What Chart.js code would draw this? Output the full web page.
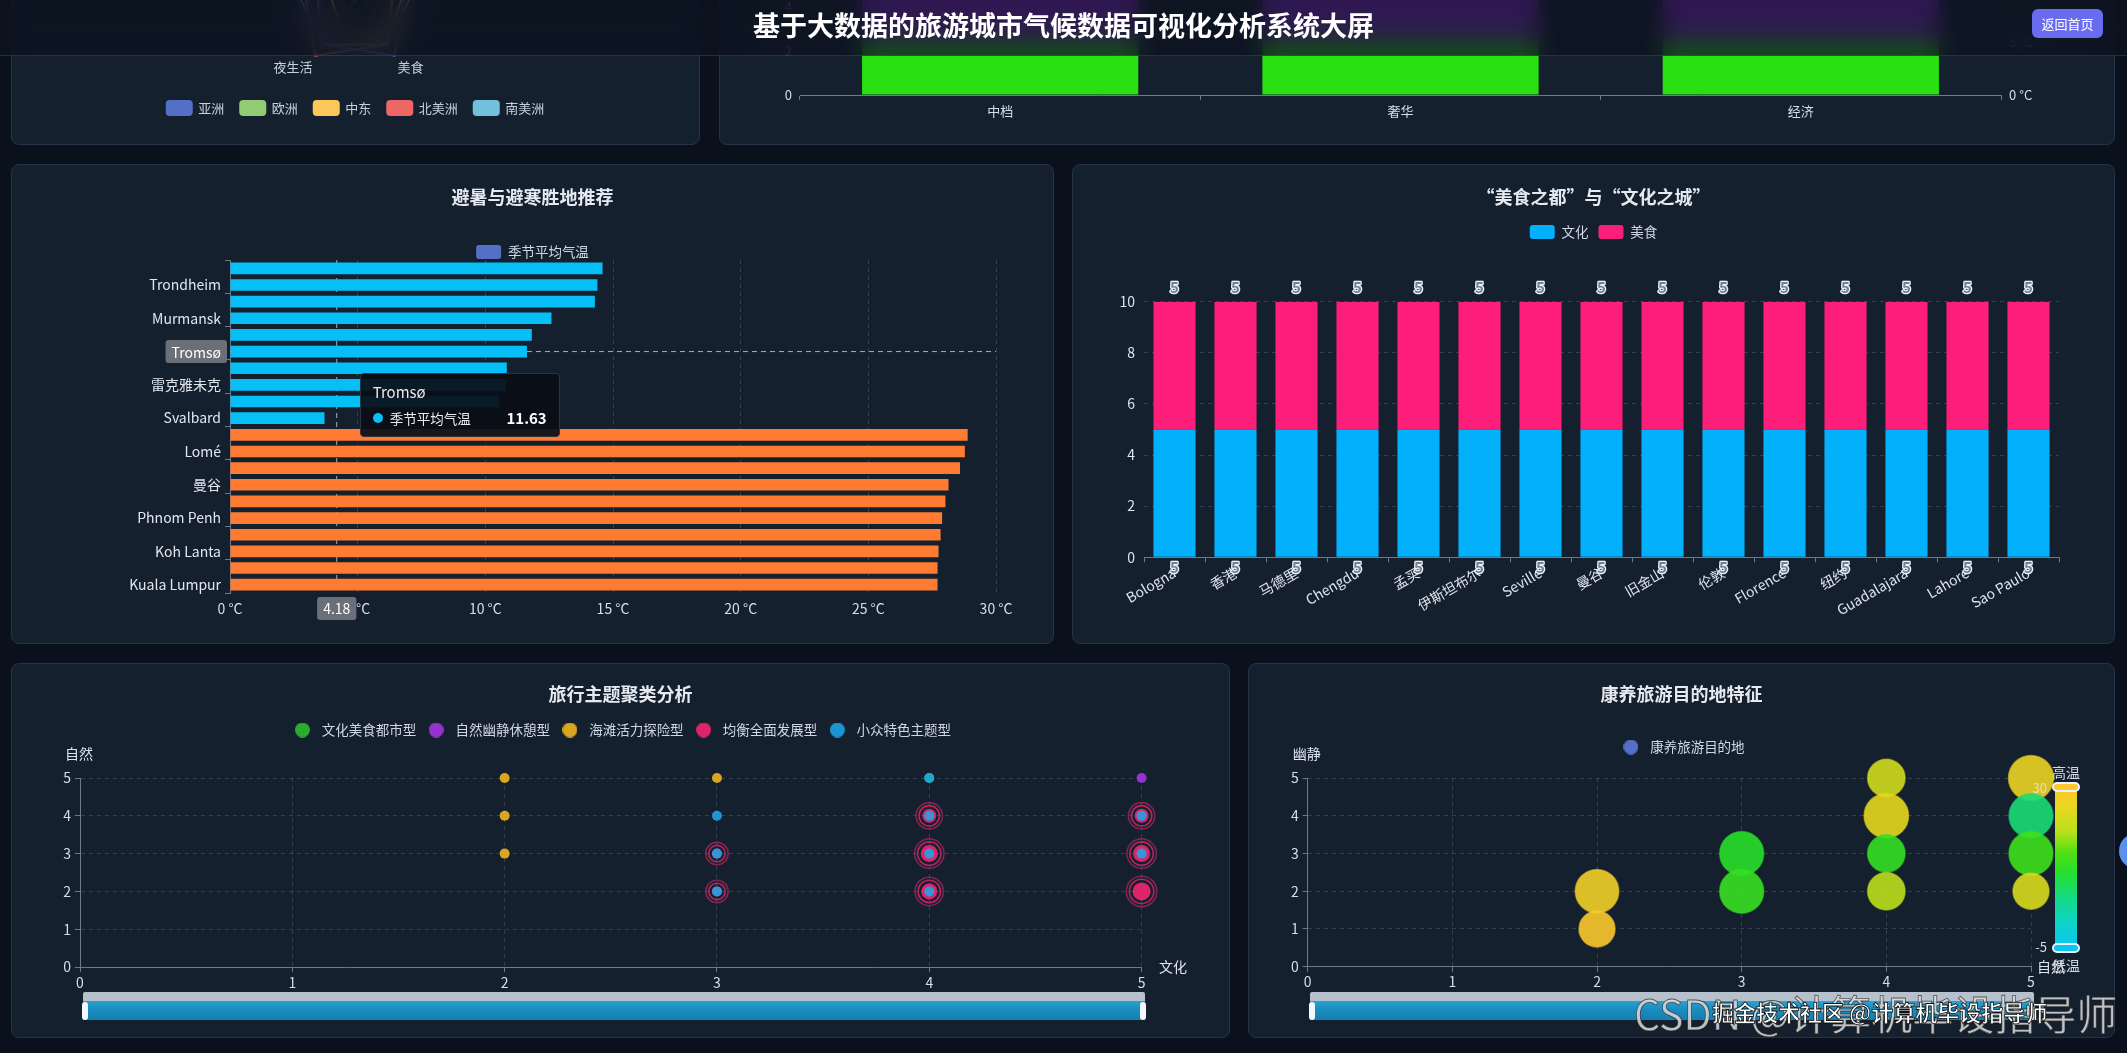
<!DOCTYPE html>
<html lang="zh-CN">
<head>
<meta charset="UTF-8">
<title>基于大数据的旅游城市气候数据可视化分析系统大屏</title>
<script src="https://cdn.jsdelivr.net/npm/chart.js@4.4.1/dist/chart.umd.min.js"></script>
<style>
  html, body { margin: 0; padding: 0; }
  body { width: 2127px; height: 1053px; overflow: hidden; position: relative; background: #0b111c;
         font-family: "Noto Sans CJK SC", "Microsoft YaHei", sans-serif; }
  .header { position: absolute; left: 0; top: 0; width: 2127px; height: 55px; z-index: 20;
            background: rgba(11, 17, 29, 0.72); backdrop-filter: blur(12px);
            border-bottom: 1px solid rgba(60, 85, 120, 0.45); }
  .header h1 { margin: 0; text-align: center; line-height: 50px; font-size: 27px; font-weight: 700; color: #fff; }
  .back { position: absolute; left: 2032px; top: 9px; width: 71px; height: 29px; line-height: 29px; border-radius: 6px;
          background: #6a6cf0; color: #fff; font-size: 13px; text-align: center; }
  .panel { position: absolute; box-sizing: border-box; background: #15202f; border: 1px solid #243347;
           border-radius: 8px; overflow: hidden; }
  .panel canvas { position: absolute; left: 0; top: 0; }
  #tip { position: absolute; display: none; z-index: 5; width: 200px; height: 64px; box-sizing: border-box;
         padding: 7px 12px; background: rgba(10, 14, 22, 0.93); border: 1px solid #2a3342; border-radius: 4px; color: #e8ecf2; }
  #tip .tt { font-size: 15px; line-height: 22px; }
  #tip .tr { display: flex; align-items: center; font-size: 13.5px; line-height: 24px; margin-top: 3px; }
  #tip .tr i { width: 10px; height: 10px; border-radius: 50%; margin-right: 7px; }
  #tip .tr b { margin-left: auto; font-size: 15px; color: #fff; }
  .zoom { position: absolute; height: 28px; }
  .zoom .bar { position: absolute; left: 0; right: 0; top: 0; height: 9px; background: #b7c1cd; border-radius: 2px 2px 0 0; }
  .zoom .shadow { position: absolute; left: 0; right: 0; top: 9px; height: 19px;
                  background: linear-gradient(#2aa2d2 0%, #1a8cbf 45%, #157fb1 100%); }
  .zoom .h { position: absolute; top: 10px; width: 6px; height: 18px; background: #f4f7fb; border-radius: 3px; }
  .vm { position: absolute; z-index: 3; color: #d3dae4; font-size: 14px; }
  .vm-bar { position: absolute; left: 806px; top: 124px; width: 22px; height: 160px; border-radius: 3px;
            background: linear-gradient(to top, #0cc6f2 0%, #0ed2c8 15%, #14d98c 30%, #24e02c 47%, #52e012 60%, #b6e01c 72%, #e6d81e 87%, #ffc62e 100%); }
  .vm-h { position: absolute; left: 803px; width: 28px; height: 10px; border-radius: 6px; border: 2px solid #e8f4ff; box-sizing: border-box; }
  .wm1 { position: absolute; left: 1634px; top: 988px; z-index: 30; font-size: 41px; line-height: 48px; white-space: nowrap;
         color: rgba(215, 215, 215, 0.88); -webkit-text-stroke: 0.8px rgba(30, 30, 30, 0.7); }
  .wm2 { position: absolute; left: 1712px; top: 996px; z-index: 31; font-size: 22px; line-height: 30px; white-space: nowrap;
         font-weight: 700; color: #fff; -webkit-text-stroke: 0.8px #111; }
  .fab { position: absolute; left: 2119px; top: 833px; width: 36px; height: 36px; border-radius: 50%; background: #5b8ff0; z-index: 25; }
</style>
</head>
<body>

<div class="header"><h1>基于大数据的旅游城市气候数据可视化分析系统大屏</h1><div class="back">返回首页</div></div>

<div class="panel" style="left:11px; top:-200px; width:689px; height:345px;"><canvas id="cRadar" width="687" height="343"></canvas></div>
<div class="panel" style="left:719px; top:-200px; width:1396px; height:345px;"><canvas id="cBudget" width="1394" height="343"></canvas></div>

<div class="panel" style="left:11px; top:164px; width:1043px; height:480px;">
  <canvas id="cEscape" width="1041" height="478"></canvas>
  <div id="tip"></div>
</div>
<div class="panel" style="left:1072px; top:164px; width:1043px; height:480px;"><canvas id="cFood" width="1041" height="478"></canvas></div>

<div class="panel" style="left:11px; top:663px; width:1219px; height:375px;">
  <canvas id="cCluster" width="1217" height="373"></canvas>
  <div class="zoom" style="left:71px; top:328px; width:1062px;"><div class="bar"></div><div class="shadow"></div>
    <div class="h" style="left:-1px"></div><div class="h" style="right:-1px"></div></div>
</div>
<div class="panel" style="left:1248px; top:663px; width:867px; height:375px;">
  <canvas id="cWell" width="865" height="373"></canvas>
  <div class="zoom" style="left:61px; top:328px; width:724px;"><div class="bar"></div><div class="shadow"></div>
    <div class="h" style="left:-1px"></div><div class="h" style="right:-1px"></div></div>
  <div class="vm-bar"></div>
  <div class="vm-h" style="top:118px; background:#ffc62e;"></div>
  <div class="vm-h" style="top:279px; background:#0cc6f2;"></div>
  <div class="vm" style="left:803px; top:98px;">高温</div>
  <div class="vm" style="left:770px; top:114px; width:28px; text-align:right; font-size:13px; color:rgba(235,235,235,0.7);">30</div>
  <div class="vm" style="left:770px; top:273px; width:28px; text-align:right; font-size:13px;">-5</div>
  <div class="vm" style="left:803px; top:291px;">低温</div>
</div>

<div class="fab"></div>
<div class="wm1">CSDN @计算机毕设指导师</div>
<div class="wm2">掘金技术社区 @计算机毕设指导师</div>

<script>
// ===== 数据 =====
// 大洲雷达（上方大部分被标题栏挡住）
const radarAxes = ['气候', '文化', '美食', '夜生活', '自然'];
const continents = ['亚洲', '欧洲', '中东', '北美洲', '南美洲'];
const asiaScore = [4, 4, 5, 4, 3];
const europeScore = [3, 5, 4, 4, 3];
const mideastScore = [2, 4, 4, 2, 2];
const namericaScore = [3, 3, 4, 5, 4];
const samericaScore = [4, 3, 4, 4, 5];

// 消费档次
const budgetLevels = ['中档', '奢华', '经济'];
const comfortCount = [2.5, 2.5, 2.5];
const otherCount = [6, 6, 6];

// 避暑 / 避寒
const coolCities = ['Bergen', 'Trondheim', 'Arkhangelsk', 'Murmansk', 'Rovaniemi', 'Tromsø', 'Nuuk', '雷克雅未克', 'Kiruna', 'Svalbard'];
const coolTemps = [14.59, 14.39, 14.29, 12.59, 11.82, 11.63, 10.84, 10.8, 10.54, 3.7];
const warmCities = ['Accra', 'Lomé', 'Singapore', '曼谷', 'Colombo', 'Phnom Penh', 'Manila', 'Koh Lanta', 'Jakarta', 'Kuala Lumpur'];
const warmTemps = [28.89, 28.78, 28.59, 28.14, 28.02, 27.89, 27.83, 27.75, 27.71, 27.71];
const pointerIndex = 5;     // 鼠标所在行 Tromsø
const pointerTemp = 4.18;   // 鼠标所在温度

// 美食之都 与 文化之城
const foodCities = ['Bologna', '香港', '马德里', 'Chengdu', '孟买', '伊斯坦布尔', 'Seville', '曼谷', '旧金山', '伦敦', 'Florence', '纽约', 'Guadalajara', 'Lahore', 'Sao Paulo'];
const cultureScore = [5, 5, 5, 5, 5, 5, 5, 5, 5, 5, 5, 5, 5, 5, 5];
const foodScore = [5, 5, 5, 5, 5, 5, 5, 5, 5, 5, 5, 5, 5, 5, 5];

// 旅行主题聚类 [文化, 自然]
const clusterNames = ['文化美食都市型', '自然幽静休憩型', '海滩活力探险型', '均衡全面发展型', '小众特色主题型'];
const urbanPts = [[4, 5]];
const quietPts = [[5, 5]];
const beachPts = [[2, 5], [2, 4], [2, 3], [3, 5]];
const balancedPts = [[3, 3], [3, 2], [4, 4], [4, 3], [4, 2], [5, 4], [5, 3], [5, 2]];
const balancedWeight = [5, 5, 7, 8.5, 8, 7, 8.5, 9];
const nichePts = [[3, 4], [3, 3], [3, 2], [4, 5], [4, 4], [4, 3], [4, 2], [5, 4], [5, 3]];

// 康养旅游 [自然, 幽静, 气温, 康养指数]
const wellNature = [2, 2, 3, 3, 4, 4, 4, 4, 5, 5, 5, 5];
const wellQuiet = [1, 2, 3, 2, 5, 4, 3, 2, 5, 4, 3, 2];
const wellTemp = [29.5, 27.6, 11.8, 13.2, 23, 25.5, 13, 21, 26.5, 7, 14, 24];
const wellScore = [7.2, 8.7, 8.8, 8.8, 7.5, 8.9, 7.5, 7.5, 9, 8.8, 8.8, 7.2];

// ===== 样式 =====
Chart.defaults.font.family = '"Noto Sans CJK SC", "Microsoft YaHei", sans-serif';
Chart.defaults.color = '#d3dae4';
const txt = '#d8dee8';
const axisC = '#6e7a8c';
const gridC = 'rgba(120, 140, 170, 0.3)';
const titleFont = { size: 18, weight: 'bold' };
const palette = ['#5470c6', '#91cc75', '#fac858', '#ee6666', '#73c0de'];
const clusterColors = ['rgba(44,188,44,0.9)', 'rgba(165,52,224,0.9)', 'rgba(240,180,30,0.9)', 'rgba(242,37,111,0.9)', 'rgba(30,165,234,0.88)'];
const tempStops = [[0, '#0cc6f2'], [0.15, '#0ed2c8'], [0.3, '#14d98c'], [0.47, '#24e02c'], [0.6, '#52e012'], [0.72, '#b6e01c'], [0.87, '#e6d81e'], [1, '#ffc62e']];

function hex(c) { return [1, 3, 5].map(i => parseInt(c.slice(i, i + 2), 16)); }
function tempColor(t, alpha) {
  const k = Math.min(1, Math.max(0, (t + 5) / 35));
  let i = 1;
  while (i < tempStops.length - 1 && tempStops[i][0] < k) i++;
  const [k0, c0] = tempStops[i - 1], [k1, c1] = tempStops[i];
  const f = (k - k0) / (k1 - k0), a = hex(c0), b = hex(c1);
  const m = a.map((v, j) => Math.round(v + (b[j] - v) * f));
  return `rgba(${m[0]},${m[1]},${m[2]},${alpha})`;
}
function legendDot(color, d) {
  const c = document.createElement('canvas');
  c.width = c.height = d;
  const g = c.getContext('2d');
  g.fillStyle = color;
  g.beginPath(); g.arc(d / 2, d / 2, d / 2, 0, Math.PI * 2); g.fill();
  return c;
}
// 右侧留白用的空轴，这样标题和图例仍然按整块画布居中
function rightGap(w) {
  return { type: 'linear', position: 'right', display: true, ticks: { display: false },
           grid: { display: false, drawTicks: false }, border: { display: false }, afterFit: s => { s.width = w; } };
}

// 把图例放到指定高度
const nudge = {
  id: 'nudge',
  afterLayout(chart, args, opts) {
    const lg = chart.legend;
    if (!lg || opts.legendTop == null) return;
    const h = lg.height;
    lg.top = opts.legendTop;
    lg.bottom = opts.legendTop + h;
  }
};

// 十字准星（仿 axisPointer: cross）
const crossPointer = {
  id: 'crossPointer',
  beforeDatasetsDraw(chart, args, opts) {
    const { ctx, chartArea: a, scales: { x, y } } = chart;
    const px = x.getPixelForValue(opts.value), py = y.getPixelForValue(opts.index);
    ctx.save();
    ctx.setLineDash([5, 4]);
    ctx.strokeStyle = 'rgba(215, 222, 232, 0.75)';
    ctx.lineWidth = 1;
    ctx.beginPath(); ctx.moveTo(a.left, py); ctx.lineTo(a.right, py); ctx.stroke();
    ctx.beginPath(); ctx.moveTo(px, a.top); ctx.lineTo(px, a.bottom); ctx.stroke();
    ctx.restore();
  },
  afterDraw(chart, args, opts) {
    const { ctx, chartArea: a, scales: { x, y } } = chart;
    const px = x.getPixelForValue(opts.value), py = y.getPixelForValue(opts.index);
    ctx.save();
    ctx.font = '14px "Noto Sans CJK SC", sans-serif';
    ctx.textBaseline = 'middle';
    ctx.textAlign = 'center';
    const yl = chart.data.labels[opts.index], yw = ctx.measureText(yl).width + 12;
    ctx.fillStyle = '#6b6f78';
    ctx.beginPath(); ctx.roundRect(a.left - 3 - yw, py - 11.5, yw, 23, 3); ctx.fill();
    ctx.fillStyle = '#fff';
    ctx.fillText(yl, a.left - 3 - yw / 2, py + 1);
    const xl = String(opts.value), xw = ctx.measureText(xl).width + 12;
    ctx.fillStyle = '#6b6f78';
    ctx.beginPath(); ctx.roundRect(px - xw / 2, a.bottom + 4, xw, 23, 3); ctx.fill();
    ctx.fillStyle = '#fff';
    ctx.fillText(xl, px, a.bottom + 16);
    ctx.restore();
  }
};

// 柱子上的数值
const barValues = {
  id: 'barValues',
  afterDraw(chart, args, opts) {
    const { ctx } = chart;
    ctx.save();
    ctx.font = 'bold 15px "Noto Sans CJK SC", sans-serif';
    ctx.textAlign = 'center';
    ctx.textBaseline = 'middle';
    ctx.lineJoin = 'round';
    chart.data.datasets.forEach((ds, di) => {
      chart.getDatasetMeta(di).data.forEach((bar, i) => {
        const y = opts.where[di] === 'top' ? bar.y - 14 : bar.base + 10;
        ctx.lineWidth = 2.5; ctx.strokeStyle = '#eef2f6';
        ctx.strokeText(ds.data[i], bar.x, y);
        ctx.fillStyle = '#6f8399';
        ctx.fillText(ds.data[i], bar.x, y);
      });
    });
    ctx.restore();
  }
};

// 坐标轴名称
const axisNames = {
  id: 'axisNames',
  afterDraw(chart, args, opts) {
    const { ctx, chartArea: a } = chart;
    ctx.save();
    ctx.fillStyle = '#dfe4ec';
    ctx.font = '14px "Noto Sans CJK SC", sans-serif';
    ctx.textBaseline = 'middle';
    ctx.textAlign = 'center';
    ctx.fillText(opts.y, a.left - 1, a.top - 24);
    ctx.textAlign = 'left';
    ctx.fillText(opts.x, a.right + opts.xGap, a.bottom);
    ctx.restore();
  }
};

Chart.Tooltip.positioners.pointer = function (items, pos) { return pos; };

function showTip({ tooltip }) {
  const tip = document.getElementById('tip');
  if (!tooltip.opacity || !tooltip.dataPoints || !tooltip.dataPoints.length) { tip.style.display = 'none'; return; }
  const dp = tooltip.dataPoints[0];
  tip.innerHTML = '<div class="tt">' + dp.label + '</div><div class="tr"><i style="background:' +
    dp.dataset.backgroundColor[dp.dataIndex] + '"></i><span>' + dp.dataset.label + '</span><b>' + dp.parsed.x + '</b></div>';
  tip.style.display = 'block';
  tip.style.left = (tooltip.caretX + 23) + 'px';
  tip.style.top = (tooltip.caretY + 21) + 'px';
}

// ===== 大洲雷达 =====
const radarSets = [asiaScore, europeScore, mideastScore, namericaScore, samericaScore];
new Chart(document.getElementById('cRadar'), {
  type: 'radar',
  data: {
    labels: radarAxes,
    datasets: continents.map((name, i) => ({
      label: name, data: radarSets[i], borderColor: palette[i], backgroundColor: palette[i],
      fill: false, borderWidth: 2, pointRadius: 0
    }))
  },
  options: {
    responsive: false, animation: false,
    layout: { padding: { top: 104, bottom: 23 } },
    plugins: {
      legend: { position: 'bottom', labels: { boxWidth: 25, boxHeight: 14, useBorderRadius: true, borderRadius: 3, padding: 16, color: '#c8d0dc', font: { size: 13 } } },
      nudge: { legendTop: 284 },
      tooltip: { enabled: false }
    },
    scales: {
      r: {
        min: 0, max: 5,
        ticks: { display: false, stepSize: 1 },
        grid: { color: 'rgba(200, 210, 225, 0.3)' },
        angleLines: { color: 'rgba(200, 210, 225, 0.3)' },
        pointLabels: { color: '#c8d0dc', font: { size: 13 } }
      }
    }
  },
  plugins: [nudge]
});

// ===== 消费档次 =====
new Chart(document.getElementById('cBudget'), {
  type: 'bar',
  data: {
    labels: budgetLevels,
    datasets: [
      { label: '舒适', data: comfortCount, backgroundColor: '#28e012', categoryPercentage: 0.69, barPercentage: 1 },
      { label: '其他', data: otherCount, backgroundColor: '#8b2fd6', categoryPercentage: 0.69, barPercentage: 1 }
    ]
  },
  options: {
    responsive: false, animation: false,
    layout: { padding: { top: 29, left: 0, right: 0, bottom: 0 } },
    plugins: { legend: { display: false }, tooltip: { enabled: false } },
    scales: {
      x: {
        stacked: true,
        grid: { drawOnChartArea: false, tickLength: 5, color: axisC },
        border: { color: axisC },
        ticks: { color: txt, font: { size: 13 }, padding: 3 },
        afterFit: s => { s.height = 49; }
      },
      y: {
        stacked: true, min: 0, max: 12,
        ticks: { stepSize: 2, color: txt, font: { size: 13 }, padding: 8 },
        grid: { color: gridC, drawTicks: false },
        border: { display: false, dash: [4, 4] },
        afterFit: s => { s.width = 80; }
      },
      y1: {
        position: 'right', min: 0, max: 25,
        ticks: { stepSize: 5, color: txt, font: { size: 13 }, padding: 8, callback: v => v + ' °C' },
        grid: { drawOnChartArea: false, drawTicks: false },
        border: { display: false },
        afterFit: s => { s.width = 113; }
      }
    }
  }
});

// ===== 避暑与避寒 =====
const escapeCities = coolCities.concat(warmCities);
const escapeTemps = coolTemps.concat(warmTemps);
const escapeChart = new Chart(document.getElementById('cEscape'), {
  type: 'bar',
  data: {
    labels: escapeCities,
    datasets: [{
      label: '季节平均气温',
      data: escapeTemps,
      backgroundColor: escapeCities.map((c, i) => i < coolCities.length ? '#06bff7' : '#ff7b32'),
      barPercentage: 0.7, categoryPercentage: 1, yAxisID: 'y'
    }]
  },
  options: {
    indexAxis: 'y', responsive: false, animation: false,
    layout: { padding: 0 },
    plugins: {
      title: { display: true, text: '避暑与避寒胜地推荐', color: '#e6eaf0', font: titleFont, padding: { top: 21.2, bottom: 18.2 } },
      legend: {
        labels: {
          boxWidth: 25, boxHeight: 14, useBorderRadius: true, borderRadius: 3, color: '#d0d7e1', font: { size: 13.5 },
          generateLabels: chart => Chart.defaults.plugins.legend.labels.generateLabels(chart)
            .map(it => Object.assign(it, { fillStyle: '#5470c6', strokeStyle: '#5470c6' }))
        }
      },
      nudge: { legendTop: 70 },
      tooltip: { enabled: false, external: showTip, position: 'pointer' },
      crossPointer: { index: pointerIndex, value: pointerTemp }
    },
    scales: {
      x: {
        min: 0, max: 30,
        ticks: { stepSize: 5, color: txt, font: { size: 14 }, padding: 7, callback: v => v + ' °C' },
        grid: { color: gridC, drawTicks: false },
        border: { display: false, dash: [4, 4] },
        afterFit: s => { s.height = 50; }
      },
      y: {
        ticks: { autoSkip: false, color: '#e2e7ee', font: { size: 14 }, padding: 4, callback: (v, i) => i % 2 ? escapeCities[i] : '' },
        grid: { drawOnChartArea: false, tickLength: 5, color: c => c.index % 2 ? 'rgba(0,0,0,0)' : axisC },
        border: { display: true, color: axisC },
        afterFit: s => { s.width = 218; }
      },
      yPad: rightGap(57)
    }
  },
  plugins: [nudge, crossPointer]
});
escapeChart.tooltip.setActiveElements([{ datasetIndex: 0, index: pointerIndex }], {
  x: escapeChart.scales.x.getPixelForValue(pointerTemp),
  y: escapeChart.scales.y.getPixelForValue(pointerIndex)
});
escapeChart.draw();

// ===== 美食之都 与 文化之城 =====
new Chart(document.getElementById('cFood'), {
  type: 'bar',
  data: {
    labels: foodCities,
    datasets: [
      { label: '文化', data: cultureScore, backgroundColor: '#03b0fb', categoryPercentage: 0.69, barPercentage: 1, yAxisID: 'y' },
      { label: '美食', data: foodScore, backgroundColor: '#fd1e79', categoryPercentage: 0.69, barPercentage: 1, yAxisID: 'y' }
    ]
  },
  options: {
    responsive: false, animation: false,
    layout: { padding: 0 },
    plugins: {
      title: { display: true, text: '“美食之都”与“文化之城”', color: '#e6eaf0', font: titleFont, padding: { top: 21.2, bottom: 59.9 } },
      legend: { labels: { boxWidth: 25, boxHeight: 14, useBorderRadius: true, borderRadius: 3, color: '#d0d7e1', font: { size: 13.5 } } },
      nudge: { legendTop: 50 },
      tooltip: { enabled: false },
      barValues: { where: ['bottom', 'top'] }
    },
    scales: {
      x: {
        stacked: true,
        ticks: { autoSkip: false, minRotation: 30, maxRotation: 30, color: '#dfe4ec', font: { size: 14 }, padding: 2 },
        grid: { drawOnChartArea: false, tickLength: 5, color: axisC },
        border: { color: axisC },
        afterFit: s => { s.height = 85.7; }
      },
      y: {
        stacked: true, min: 0, max: 10,
        ticks: { stepSize: 2, color: '#dfe4ec', font: { size: 14 }, padding: 9 },
        grid: { color: gridC, drawTicks: false },
        border: { display: false, dash: [4, 4] },
        afterFit: s => { s.width = 71; }
      },
      yPad: rightGap(55)
    }
  },
  plugins: [nudge, barValues]
});

// ===== 旅行主题聚类 =====
const toXY = p => ({ x: p[0], y: p[1] });
const dotSet = (i, pts, order) => ({
  label: clusterNames[i], data: pts.map(toXY), backgroundColor: clusterColors[i],
  pointRadius: 5, pointBorderWidth: 0, order, clip: false, yAxisID: 'y'
});
const ringSet = (grow, alpha) => ({
  label: 'ring', data: balancedPts.map(toXY), backgroundColor: 'rgba(0,0,0,0)',
  borderColor: `rgba(242,37,111,${alpha})`, pointBorderWidth: 1.6,
  pointRadius: c => balancedWeight[c.dataIndex] + grow, order: 3, clip: false, yAxisID: 'y'
});
new Chart(document.getElementById('cCluster'), {
  type: 'scatter',
  data: {
    datasets: [
      dotSet(0, urbanPts, 1),
      dotSet(1, quietPts, 1),
      dotSet(2, beachPts, 1),
      { label: clusterNames[3], data: balancedPts.map(toXY), backgroundColor: clusterColors[3], pointBorderWidth: 0,
        pointRadius: c => balancedWeight[c.dataIndex], order: 2, clip: false, yAxisID: 'y' },
      dotSet(4, nichePts, 0),
      ringSet(3.2, 0.75),
      ringSet(6.2, 0.5)
    ]
  },
  options: {
    responsive: false, animation: false,
    layout: { padding: 0 },
    plugins: {
      title: { display: true, text: '旅行主题聚类分析', color: '#e6eaf0', font: titleFont, padding: { top: 19.2, bottom: 42.2 } },
      legend: {
        labels: {
          usePointStyle: true, pointStyleWidth: 25, padding: 7.5, color: '#d0d7e1', font: { size: 13.5 },
          generateLabels: chart => Chart.defaults.plugins.legend.labels.generateLabels(chart)
            .filter(it => it.datasetIndex < 5)
            .sort((a, b) => a.datasetIndex - b.datasetIndex)
            .map(it => Object.assign(it, { pointStyle: legendDot(clusterColors[it.datasetIndex], 15) }))
        }
      },
      nudge: { legendTop: 51.75 },
      tooltip: { enabled: false },
      axisNames: { y: '自然', x: '文化', xGap: 17.5 }
    },
    scales: {
      x: {
        min: 0, max: 5,
        ticks: { stepSize: 1, color: txt, font: { size: 14 }, padding: 2 },
        grid: { color: gridC, tickLength: 5, tickColor: axisC },
        border: { display: true, color: axisC, dash: [4, 4] },
        afterFit: s => { s.height = 70; }
      },
      y: {
        min: 0, max: 5,
        ticks: { stepSize: 1, color: txt, font: { size: 14 }, padding: 4 },
        grid: { color: gridC, tickLength: 5, tickColor: axisC },
        border: { display: true, color: axisC, dash: [4, 4] },
        afterFit: s => { s.width = 68; }
      },
      yPad: rightGap(87.4)
    }
  },
  plugins: [nudge, axisNames]
});

// ===== 康养旅游 =====
new Chart(document.getElementById('cWell'), {
  type: 'bubble',
  data: {
    datasets: [{
      label: '康养旅游目的地',
      data: wellNature.map((x, i) => ({ x, y: wellQuiet[i], r: wellScore[i] * 2.5 })),
      backgroundColor: wellTemp.map(t => tempColor(t, 0.9)),
      borderColor: wellTemp.map(t => tempColor(t, 0.55)),
      borderWidth: 1.5, clip: false, yAxisID: 'y'
    }]
  },
  options: {
    responsive: false, animation: false,
    layout: { padding: 0 },
    plugins: {
      title: { display: true, text: '康养旅游目的地特征', color: '#e6eaf0', font: titleFont, padding: { top: 19.2, bottom: 39.7 } },
      legend: {
        labels: {
          usePointStyle: true, pointStyleWidth: 25, color: '#d0d7e1', font: { size: 13.5 },
          generateLabels: chart => Chart.defaults.plugins.legend.labels.generateLabels(chart)
            .map(it => Object.assign(it, { pointStyle: legendDot('#5470c6', 15) }))
        }
      },
      nudge: { legendTop: 66.25 },
      tooltip: { enabled: false },
      axisNames: { y: '幽静', x: '自然', xGap: 6 }
    },
    scales: {
      x: {
        min: 0, max: 5,
        ticks: { stepSize: 1, color: txt, font: { size: 14 }, padding: 2 },
        grid: { color: gridC, tickLength: 5, tickColor: axisC },
        border: { display: true, color: axisC, dash: [4, 4] },
        afterFit: s => { s.height = 70.3; }
      },
      y: {
        min: 0, max: 5,
        ticks: { stepSize: 1, color: txt, font: { size: 14 }, padding: 4 },
        grid: { color: gridC, tickLength: 5, tickColor: axisC },
        border: { display: true, color: axisC, dash: [4, 4] },
        afterFit: s => { s.width = 58.7; }
      },
      yPad: rightGap(83)
    }
  },
  plugins: [nudge, axisNames]
});
</script>
</body>
</html>
